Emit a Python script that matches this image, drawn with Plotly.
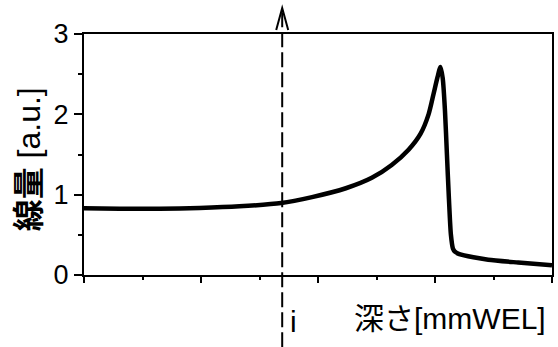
import plotly.graph_objects as go

# Depth-dose curve (depth in arbitrary mm water-equivalent units, dose in a.u.)
depth = [0, 30.6, 64.7, 98.7, 132.8, 168.5, 194.9, 223.8, 246.0, 263.0, 277.4,
         287.7, 294.5, 298.7, 302.1, 304.7, 306.6, 308.5, 310.2, 311.9, 313.6,
         315.3, 317.0, 320.8, 332.8, 345.5, 371.1, 400.0]
dose = [0.83, 0.825, 0.825, 0.835, 0.855, 0.895, 0.97, 1.08, 1.21, 1.37, 1.56,
        1.76, 2.00, 2.25, 2.46, 2.59, 2.45, 2.05, 1.50, 0.95, 0.50,
        0.33, 0.29, 0.26, 0.22, 0.19, 0.155, 0.12]

# Position of the marked depth i
i_depth = 169.4

y_ticks = [0, 1, 2, 3]
y_tick_text = ["0", "1", "2", "3"]

FONT = "Liberation Sans, Arial, Noto Sans CJK JP"

fig = go.Figure()
fig.add_trace(go.Scatter(
    x=depth, y=dose, mode="lines",
    line=dict(color="black", width=4.5, shape="spline", smoothing=0.7),
    hoverinfo="skip", showlegend=False,
))

# Vertical dashed line at depth i, running past the axes
fig.add_shape(type="line", xref="x", yref="paper",
              x0=i_depth, x1=i_depth, y0=-0.3, y1=1.105,
              line=dict(color="black", width=2, dash="15px,5px"))
# Open arrowhead at the top of the dashed line
fig.add_shape(type="path", xref="x", yref="paper",
              xsizemode="pixel", ysizemode="pixel",
              xanchor=i_depth, yanchor=1,
              path="M -6,4 L 0,26 L 6,4",
              line=dict(color="black", width=2))

fig.add_annotation(x=i_depth, y=0, xref="x", yref="paper",
                   text="i", showarrow=False, xanchor="left", yanchor="top",
                   xshift=6, yshift=-28, font=dict(family=FONT, size=30, color="black"))
fig.add_annotation(x=1, y=0, xref="paper", yref="paper",
                   text="深さ[mmWEL]", showarrow=False, xanchor="right", yanchor="top",
                   xshift=-4, yshift=-25, font=dict(family=FONT, size=30, color="black"))
fig.add_annotation(x=0, y=0.48, xref="paper", yref="paper",
                   text="<b>線量</b> [a.u.]", showarrow=False, textangle=-90,
                   xanchor="center", yanchor="middle", xshift=-55,
                   font=dict(family=FONT, size=32, color="black"))

fig.update_xaxes(range=[0, 400], showline=True, linecolor="black", linewidth=2,
                 mirror=True, ticks="outside", ticklen=6, tickwidth=2, tickcolor="black",
                 dtick=100, tick0=0, showticklabels=False, showgrid=False, zeroline=False,
                 minor=dict(ticks="outside", ticklen=3, tickwidth=2, tickcolor="black",
                            dtick=50, showgrid=False))
fig.update_yaxes(range=[0, 3], showline=True, linecolor="black", linewidth=2,
                 mirror=True, ticks="outside", ticklen=8, tickwidth=2, tickcolor="black",
                 tickvals=y_ticks, ticktext=y_tick_text, showgrid=False, zeroline=False,
                 tickfont=dict(family=FONT, size=27, color="black"),
                 minor=dict(ticks="outside", ticklen=4, tickwidth=2, tickcolor="black",
                            dtick=0.5, showgrid=False))

fig.update_layout(width=558, height=347, margin=dict(l=84, r=4, t=34, b=72),
                  paper_bgcolor="white", plot_bgcolor="white",
                  font=dict(family=FONT, color="black"))

fig.write_html("out.html")
